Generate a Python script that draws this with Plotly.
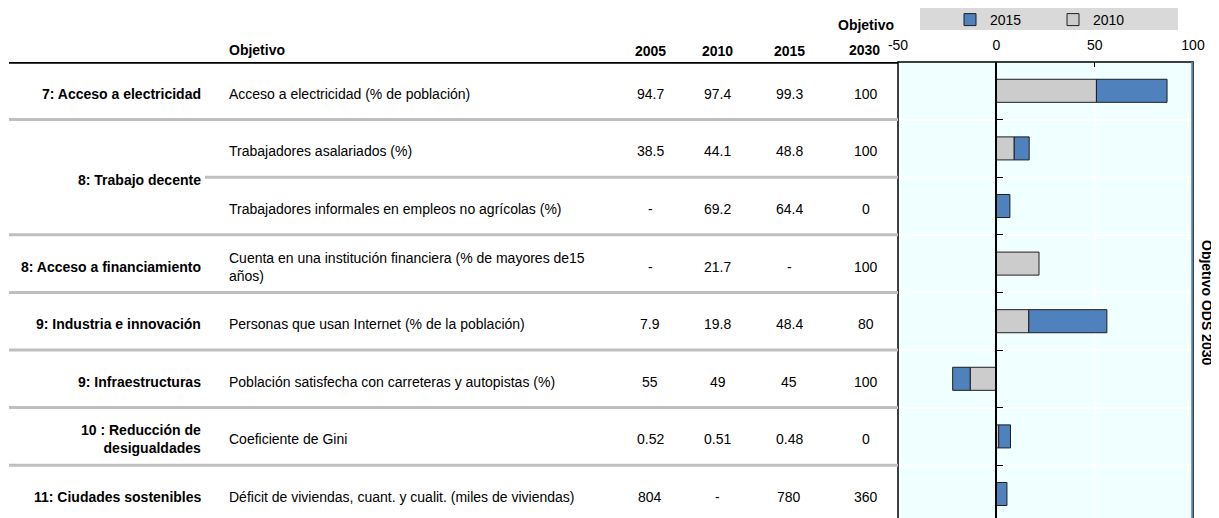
import plotly.graph_objects as go

# browser window 1219x518; the page body adds an 8px margin
SCREEN_W, SCREEN_H = 1219, 518
BODY = 8
W, H = SCREEN_W - BODY, SCREEN_H  # figure continues below the window, as in the reference

# ---------------- data ----------------
categories = ["7: Acceso a electricidad", "8: Trabajo decente", "8: Acceso a financiamiento",
              "9: Industria e innovación", "9: Infraestructuras",
              "10 : Reducción de<br>desigualdades", "11: Ciudades sostenibles"]
category_rows = [0, 1.5, 3, 4, 5, 6, 7]

indicators = [
    "Acceso a electricidad (% de población)",
    "Trabajadores asalariados (%)",
    "Trabajadores informales en empleos no agrícolas (%)",
    "Cuenta en una institución financiera (% de mayores de15<br>años)",
    "Personas que usan Internet (% de la población)",
    "Población satisfecha con carreteras y autopistas (%)",
    "Coeficiente de Gini",
    "Déficit de viviendas, cuant. y cualit. (miles de viviendas)",
]
v2005 = ["94.7", "38.5", "-", "-", "7.9", "55", "0.52", "804"]
v2010 = ["97.4", "44.1", "69.2", "21.7", "19.8", "49", "0.51", "-"]
v2015 = ["99.3", "48.8", "64.4", "-", "48.4", "45", "0.48", "780"]
target2030 = ["100", "100", "0", "100", "80", "100", "0", "360"]

# progress toward the 2030 goal (%), cumulative
progress_2010 = [50.9, 9.1, None, 21.7, 16.5, -13.3, 1.2, None]
progress_2015 = [86.8, 16.7, 6.9, None, 56.2, -22.2, 7.2, 5.4]

header_years = ["2005", "2010", "2015"]
x_ticks = [-50, 0, 50, 100]
x_ticktext = ["-50", "0", "50", "100"]
TARGET = 100

# ---------------- styling ----------------
FONT = "Liberation Sans, Arial, sans-serif"
FS = 14
BLUE = "#4f81bd"
GRAY = "#cccccc"
EDGE = "#1f1f1f"
TEXT_SHIFT = -3

# screen-pixel layout targets
PLOT_L, PLOT_R, PLOT_T = 898, 1193, 62
ROW_H = 57.6
T = PLOT_T - BODY  # top margin in figure px


def px(x):
    return (x - BODY) / W


def py(y):
    return (H - (y - BODY)) / (H - T)


y_bottom = -0.5 + (H - T) / ROW_H

inc_2015 = [None if p15 is None else p15 - (p10 or 0) for p10, p15 in zip(progress_2010, progress_2015)]

fig = go.Figure()
fig.add_trace(go.Bar(y=indicators, x=progress_2010, orientation="h", name="2010",
                     marker=dict(color=GRAY, line=dict(color=EDGE, width=1))))
fig.add_trace(go.Bar(y=indicators, x=inc_2015, orientation="h", name="2015",
                     marker=dict(color=BLUE, line=dict(color=EDGE, width=1))))

dom = [px(PLOT_L), px(PLOT_R)]
zero_pos = dom[0] + (dom[1] - dom[0]) * (0 - (-50)) / 150

fig.update_layout(
    width=W, height=H,
    margin=dict(l=0, r=0, t=T, b=0, autoexpand=False),
    paper_bgcolor="white",
    plot_bgcolor="#f0ffff",
    barmode="relative",
    bargap=0.6,
    font=dict(family=FONT, size=FS, color="black"),
    showlegend=True,
    legend=dict(orientation="h", traceorder="reversed", x=px(950), y=py(4), xanchor="left", yanchor="top",
                bgcolor="rgba(0,0,0,0)", font=dict(size=FS), itemwidth=30, entrywidth=58,
                tracegroupgap=0, borderwidth=0),
    xaxis=dict(domain=dom, range=[-50, 100], side="top", tickvals=x_ticks, ticktext=x_ticktext,
               automargin=False,
               ticks="inside", ticklen=5, tickcolor="black", showgrid=True, gridcolor="white",
               gridwidth=1.5, zeroline=False, showline=False, ticklabelstandoff=8,
               tickfont=dict(size=FS)),
    yaxis=dict(type="category", categoryorder="array", categoryarray=indicators, automargin=False,
               range=[y_bottom, -0.5], anchor="free", position=zero_pos,
               showline=True, linecolor="black", linewidth=1.5,
               ticks="inside", ticklen=6, tickcolor="black", tickson="boundaries",
               showgrid=True, gridcolor="white", gridwidth=1.5, showticklabels=False,
               zeroline=False),
)

shapes = []
# legend background
shapes.append(dict(type="rect", xref="paper", yref="paper", x0=px(920), x1=px(1178), y0=py(30), y1=py(8),
                   fillcolor="#d9d9d9", line=dict(width=0), layer="below"))
# plot frame
shapes.append(dict(type="rect", xref="x domain", yref="y domain", x0=0, x1=1, y0=0, y1=1,
                   line=dict(color="black", width=1.5)))
# target line
shapes.append(dict(type="line", xref="x", yref="y domain", x0=TARGET, x1=TARGET, y0=0, y1=1,
                   line=dict(color=BLUE, width=3.5)))
# table header line
shapes.append(dict(type="line", xref="paper", yref="y", x0=px(9), x1=px(PLOT_L), y0=-0.5, y1=-0.5,
                   line=dict(color="black", width=3.5)))
# row separators
for i in range(len(indicators) - 1):
    x0 = px(205) if i == 1 else px(9)
    shapes.append(dict(type="line", xref="paper", yref="y", x0=x0, x1=px(PLOT_L), y0=i + 0.5, y1=i + 0.5,
                       line=dict(color="#bfbfbf", width=3)))
fig.update_layout(shapes=shapes)

ann = []
# headers
ann.append(dict(text="<b>Objetivo</b>", xref="paper", yref="paper", x=px(227), y=py(50),
                xanchor="left", yanchor="middle", showarrow=False))
for xc, t in zip([650, 718, 789], header_years):
    ann.append(dict(text=f"<b>{t}</b>", xref="paper", yref="paper", x=px(xc), y=py(51),
                    xanchor="center", yanchor="middle", showarrow=False))
ann.append(dict(text="<b>Objetivo</b>", xref="paper", yref="paper", x=px(866), y=py(25),
                xanchor="center", yanchor="middle", showarrow=False))
ann.append(dict(text="<b>2030</b>", xref="paper", yref="paper", x=px(864), y=py(50),
                xanchor="center", yanchor="middle", showarrow=False))
# category labels
for t, r in zip(categories, category_rows):
    ann.append(dict(text=f"<b>{t}</b>".replace("<br>", "</b><br><b>"), xref="paper", yref="y", x=px(203), y=r,
                    xanchor="right", yanchor="middle", align="right", showarrow=False, yshift=TEXT_SHIFT,
                    bgcolor="white" if r == 1.5 else None))
# indicator rows
for i, t in enumerate(indicators):
    ann.append(dict(text=t, xref="paper", yref="y", x=px(227), y=i, xanchor="left", yanchor="middle",
                    align="left", showarrow=False, yshift=TEXT_SHIFT))
    for xc, col in zip([650, 718, 789, 866], [v2005, v2010, v2015, target2030]):
        ann.append(dict(text=col[i], xref="paper", yref="y", x=px(xc), y=i, xanchor="center",
                        yanchor="middle", showarrow=False, yshift=TEXT_SHIFT))
# right label
ann.append(dict(text="<b>Objetivo ODS 2030</b>", xref="paper", yref="paper", x=px(1207), y=py(302),
                xanchor="center", yanchor="middle", textangle=90, showarrow=False))
fig.update_layout(annotations=ann)

fig.write_html("out.html")
